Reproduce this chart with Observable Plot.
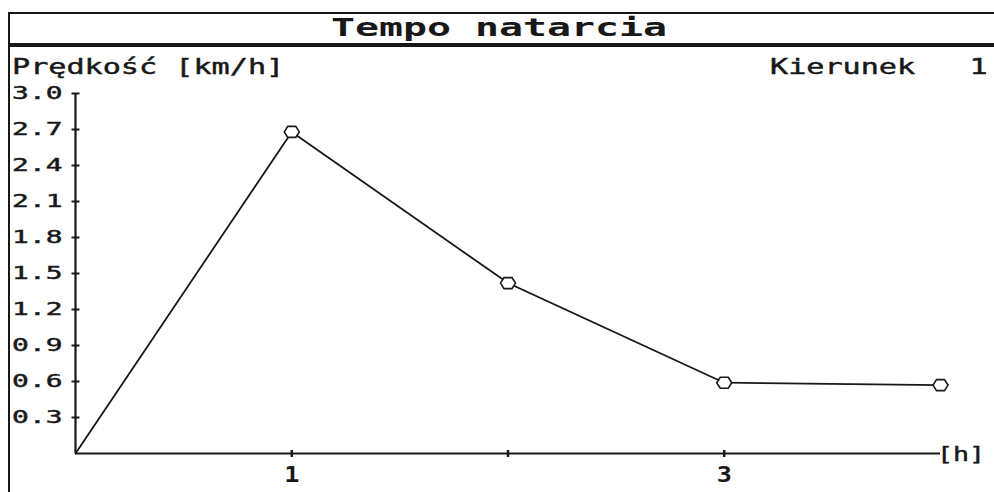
<!DOCTYPE html>
<html><head><meta charset="utf-8">
<script src="https://cdn.jsdelivr.net/npm/d3@7"></script>
<script src="https://cdn.jsdelivr.net/npm/@observablehq/plot@0.6"></script>
<style>
body{margin:0;background:#fff;}
#wrap{position:relative;width:994px;height:492px;overflow:hidden;background:#fff;font-family:"DejaVu Sans Mono",monospace;color:#181818;}
#chart{position:absolute;left:0;top:0;}
.ln{position:absolute;background:#181818;}
.txt{position:absolute;white-space:pre;line-height:1;}
.thick{-webkit-text-stroke:0.45px #181818;}
g[aria-label="y-axis tick label"] text{stroke:#181818;stroke-width:0.45px;}
</style></head><body>
<div id="wrap">
  <div id="chart"></div>
  <div class="ln" style="left:8px;top:12px;width:986px;height:2px"></div>
  <div class="ln" style="left:8px;top:43px;width:986px;height:4px"></div>
  <div class="ln" style="left:8px;top:12px;width:2px;height:480px"></div>
  <div class="txt" id="title" style="left:0;top:16px;width:998px;text-align:center;font-size:24px;font-weight:bold;transform:scaleX(1.66);transform-origin:499px 0;"></div>
  <div class="txt thick" id="ylab" style="left:12px;top:56px;font-size:22px;transform:scaleX(1.37);transform-origin:0 0;"></div>
  <div class="txt thick" id="dir" style="left:770px;top:56px;font-size:22px;transform:scaleX(1.37);transform-origin:0 0;"></div>
  <div class="txt thick" id="xlab" style="left:937px;top:444px;font-size:20px;transform:scaleX(1.33);transform-origin:0 0;"></div>
</div>
<script>
// ---- data ----
const titleText = "Tempo natarcia";
const yLabelText = "Prędkość [km/h]";
const dirText = "Kierunek   1";
const xLabelText = "[h]";
const hours = [0, 1, 2, 3, 4];
const speed = [0, 2.68, 1.42, 0.59, 0.57];
const yTicks = [0.3, 0.6, 0.9, 1.2, 1.5, 1.8, 2.1, 2.4, 2.7, 3.0];
const xTicks = [1, 2, 3];
const xTickLabels = ["1", "", "3"];

document.getElementById("title").textContent = titleText;
document.getElementById("ylab").textContent = yLabelText;
document.getElementById("dir").textContent = dirText;
document.getElementById("xlab").textContent = xLabelText;

const ink = "#181818";
const data = hours.map((h, i) => ({h, v: speed[i]}));
const hline = {draw(ctx){ ctx.moveTo(-4, 0); ctx.lineTo(4, 0); }};
const vline = {draw(ctx){ ctx.moveTo(0, -3.5); ctx.lineTo(0, 3.5); }};
const hexa = {draw(ctx){
  ctx.moveTo(-7.5, 0); ctx.lineTo(-4, -5.5); ctx.lineTo(4, -5.5);
  ctx.lineTo(7.5, 0); ctx.lineTo(4, 5.5); ctx.lineTo(-4, 5.5); ctx.closePath();
}};

const chart = Plot.plot({
  width: 994, height: 492,
  marginLeft: 75, marginRight: 54, marginTop: 93, marginBottom: 39,
  x: {domain: [0, 4]},
  y: {domain: [0, 3]},
  style: {background: "transparent", fontFamily: "DejaVu Sans Mono", color: ink},
  marks: [
    Plot.ruleX([0], {stroke: ink, strokeWidth: 2.2}),
    Plot.ruleY([0], {stroke: ink, strokeWidth: 2}),
    Plot.dot(yTicks, {x: () => 0, y: d => d, symbol: hline, stroke: ink, strokeWidth: 2}),
    Plot.dot(xTicks, {x: d => d, y: () => 0, symbol: vline, stroke: ink, strokeWidth: 2.5}),
    Plot.axisY(yTicks, {tickSize: 0, tickPadding: 13, tickFormat: d => d.toFixed(1), fontSize: 18, label: null, fill: ink}),
    Plot.axisX(xTicks, {tickSize: 0, tickPadding: 14, tickFormat: d => xTickLabels[xTicks.indexOf(d)], fontSize: 21, fontWeight: "bold", label: null, fill: ink}),
    Plot.line(data, {x: "h", y: "v", stroke: ink, strokeWidth: 1.8}),
    Plot.dot(data.slice(1), {x: "h", y: "v", symbol: hexa, stroke: ink, fill: "white", strokeWidth: 1.6})
  ]
});
document.getElementById("chart").appendChild(chart);
function widen(sel, sx) {
  d3.select(chart).selectAll(sel).each(function() {
    const t = this.getAttribute("transform");
    if (t && /translate/.test(t)) {
      this.setAttribute("transform", t + ` scale(${sx},1)`);
    } else {
      this.setAttribute("textLength", this.getComputedTextLength() * sx);
      this.setAttribute("lengthAdjust", "spacingAndGlyphs");
    }
  });
}
widen('g[aria-label="y-axis tick label"] text', 1.55);
widen('g[aria-label="x-axis tick label"] text', 1.2);
</script>
</body></html>
